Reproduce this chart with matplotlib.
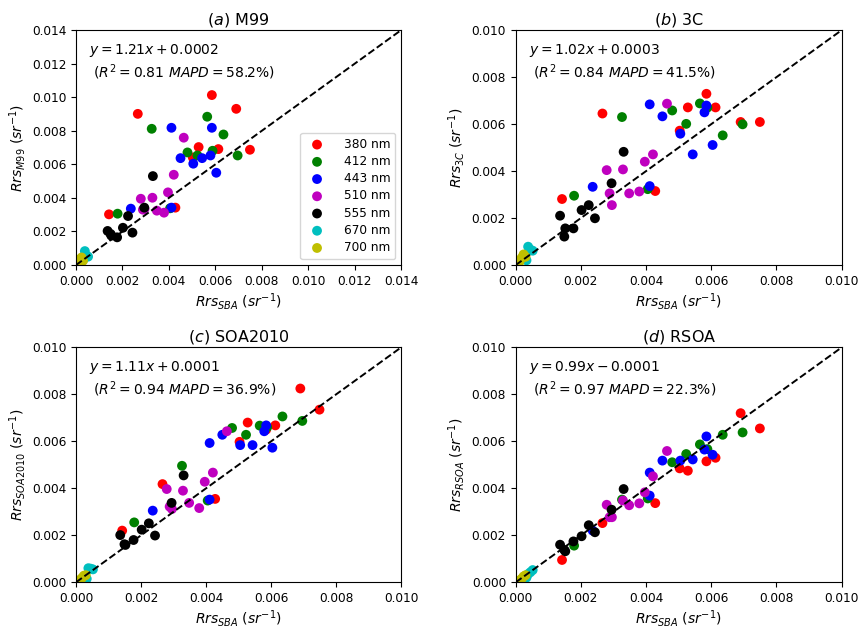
import numpy as np
import matplotlib
matplotlib.use('Agg')
import matplotlib.pyplot as plt

# Rrs values, in units of 1e-3 sr^-1
bands = ['380 nm', '412 nm', '443 nm', '510 nm', '555 nm', '670 nm', '700 nm']
colors = ['r', 'g', 'b', 'm', 'k', 'c', 'y']

# SBA (reference) values, shared by all four panels
sba_380 = [1.42, 2.66, 5.03, 5.28, 5.85, 6.13, 6.90, 7.49, 4.28]
sba_412 = [1.79, 3.26, 4.05, 4.80, 5.23, 5.65, 5.88, 6.35, 6.96]
sba_443 = [2.36, 4.11, 4.11, 4.50, 5.05, 5.43, 5.79, 5.85, 6.04]
sba_510 = [2.79, 2.88, 2.95, 3.29, 3.48, 3.79, 3.96, 4.21, 4.64]
sba_555 = [1.36, 1.49, 1.52, 1.77, 2.02, 2.24, 2.43, 2.94, 3.31]
sba_670 = [0.33, 0.38, 0.45, 0.52]
sba_700 = [0.12, 0.18, 0.24, 0.30]

# M99
m99_380 = [3.02, 9.01, 6.41, 7.03, 10.13, 6.91, 9.31, 6.87, 3.42]
m99_412 = [3.06, 8.12, 3.38, 6.71, 6.53, 8.84, 6.81, 7.78, 6.53]
m99_443 = [3.36, 8.18, 3.42, 6.37, 6.04, 6.37, 6.53, 8.18, 5.50]
m99_510 = [3.95, 3.30, 3.35, 4.01, 3.24, 3.12, 4.33, 5.38, 7.59]
m99_555 = [2.03, 1.85, 1.75, 1.65, 2.22, 2.92, 1.93, 3.42, 5.30]
m99_670 = [0.35, 0.83, 0.55, 0.50]
m99_700 = [0.15, 0.35, 0.45, 0.25]

# 3C
c3_380 = [2.81, 6.45, 5.72, 6.71, 7.29, 6.71, 6.09, 6.09, 3.15]
c3_412 = [2.95, 6.30, 3.23, 6.58, 6.01, 6.88, 6.70, 5.52, 5.99]
c3_443 = [3.33, 6.84, 3.36, 6.33, 5.59, 4.71, 6.50, 6.79, 5.11]
c3_510 = [4.04, 3.05, 2.55, 4.07, 3.05, 3.13, 4.40, 4.71, 6.87]
c3_555 = [2.10, 1.21, 1.56, 1.56, 2.34, 2.55, 1.99, 3.48, 4.82]
c3_670 = [0.20, 0.78, 0.65, 0.61]
c3_700 = [0.15, 0.30, 0.45, 0.35]

# SOA2010
soa_380 = [2.20, 4.18, 5.98, 6.80, 6.50, 6.68, 8.25, 7.35, 3.55]
soa_412 = [2.55, 4.96, 3.48, 6.57, 6.28, 6.67, 6.60, 7.06, 6.87]
soa_443 = [3.05, 5.93, 3.52, 6.28, 5.84, 5.84, 6.43, 6.68, 5.73]
soa_510 = [3.97, 3.22, 3.12, 3.90, 3.38, 3.16, 4.28, 4.67, 6.43]
soa_555 = [2.01, 1.62, 1.59, 1.80, 2.24, 2.51, 1.99, 3.38, 4.55]
soa_670 = [0.15, 0.60, 0.58, 0.55]
soa_700 = [0.10, 0.18, 0.28, 0.30]

# RSOA
rsoa_380 = [0.95, 2.52, 4.85, 4.75, 5.15, 5.30, 7.20, 6.55, 3.37]
rsoa_412 = [1.56, 3.52, 3.57, 5.11, 5.46, 5.87, 5.67, 6.28, 6.38]
rsoa_443 = [2.20, 4.67, 3.69, 5.18, 5.18, 5.23, 5.65, 6.21, 5.43]
rsoa_510 = [3.30, 2.77, 2.77, 3.48, 3.28, 3.36, 3.83, 4.51, 5.59]
rsoa_555 = [1.60, 1.38, 1.32, 1.74, 1.96, 2.43, 2.13, 3.09, 3.97]
rsoa_670 = [0.20, 0.35, 0.43, 0.52]
rsoa_700 = [0.08, 0.15, 0.25, 0.30]

sba = [sba_380, sba_412, sba_443, sba_510, sba_555, sba_670, sba_700]
models = [
    ('a', 'M99', [m99_380, m99_412, m99_443, m99_510, m99_555, m99_670, m99_700],
     '$y = 1.21x + 0.0002$\n $(R^2 = 0.81\\ MAPD = 58.2\\%)$', 0.014),
    ('b', '3C', [c3_380, c3_412, c3_443, c3_510, c3_555, c3_670, c3_700],
     '$y = 1.02x + 0.0003$\n $(R^2 = 0.84\\ MAPD = 41.5\\%)$', 0.010),
    ('c', 'SOA2010', [soa_380, soa_412, soa_443, soa_510, soa_555, soa_670, soa_700],
     '$y = 1.11x + 0.0001$\n $(R^2 = 0.94\\ MAPD = 36.9\\%)$', 0.010),
    ('d', 'RSOA', [rsoa_380, rsoa_412, rsoa_443, rsoa_510, rsoa_555, rsoa_670, rsoa_700],
     '$y = 0.99x - 0.0001$\n $(R^2 = 0.97\\ MAPD = 22.3\\%)$', 0.010),
]

# axes positions in figure fractions (left, bottom, width, height)
positions = [[0.0884, 0.578, 0.378, 0.374],
             [0.5997, 0.578, 0.379, 0.374],
             [0.0884, 0.0728, 0.378, 0.374],
             [0.5997, 0.0728, 0.379, 0.374]]

fig = plt.figure(figsize=(8.6, 6.28), dpi=100)

for pos, (letter, name, vals, eq, vmax) in zip(positions, models):
    ax = fig.add_axes(pos)
    for xs, ys, c, lab in zip(sba, vals, colors, bands):
        ax.scatter(np.array(xs) * 1e-3, np.array(ys) * 1e-3, s=50, c=c,
                   label=lab, edgecolors='none')
    ax.plot([0, vmax], [0, vmax], 'k--', lw=1.4)
    ax.set_xlim(0, vmax)
    ax.set_ylim(0, vmax)
    ticks = np.arange(0, vmax + 1e-9, 0.002)
    ax.set_xticks(ticks)
    ax.set_yticks(ticks)
    ax.set_xticklabels(['%.3f' % t for t in ticks])
    ax.set_yticklabels(['%.3f' % t for t in ticks])
    ax.tick_params(labelsize=8.7)
    ax.text(0.04, 0.95, eq, transform=ax.transAxes, va='top', ha='left', fontsize=10)
    ax.set_title('($%s$) %s' % (letter, name), fontsize=11.5, pad=4)
    ax.set_xlabel('$Rrs_{SBA}$ $(sr^{-1})$', fontsize=10, labelpad=2)
    ax.set_ylabel('$Rrs_{%s}$ $(sr^{-1})$' % name, fontsize=10, labelpad=3)
    if letter == 'a':
        ax.legend(loc='lower right', fontsize=8.7, scatterpoints=1,
                  labelspacing=0.35, handletextpad=1.2)

fig.savefig('out.png', dpi=100)
